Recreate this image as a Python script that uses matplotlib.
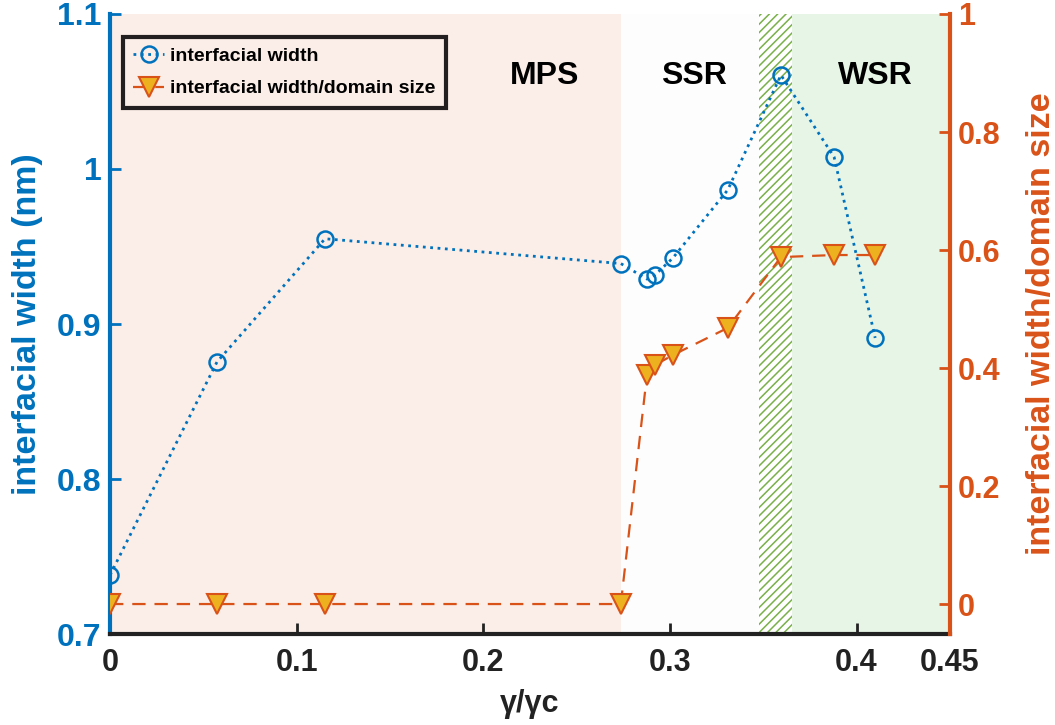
import numpy as np
import matplotlib
matplotlib.use("Agg")
import matplotlib.pyplot as plt

plt.rcParams['font.family'] = ['Liberation Sans', 'DejaVu Sans']
plt.rcParams['font.weight'] = 'bold'
plt.rcParams['hatch.linewidth'] = 1.1

# data
ratio = [0, 0.0573, 0.1152, 0.2737, 0.2877, 0.292, 0.3016, 0.331, 0.3595, 0.388, 0.41]
width = [0.738, 0.8755, 0.955, 0.939, 0.929, 0.9316, 0.9426, 0.9865, 1.0606, 1.0077, 0.891]
width_ratio = [0, 0, 0, 0, 0.388, 0.405, 0.422, 0.468, 0.588, 0.5915, 0.5915]

regions = ['MPS', 'SSR', 'WSR']
region_x = [0.233, 0.313, 0.41]

blue = '#0072BD'
orange = '#D95319'
gold = '#EDB120'

fig = plt.figure(figsize=(10.55, 7.25), dpi=100)
ax = fig.add_axes([0.1043, 0.1255, 0.796, 0.8552])

# background regions
ax.axvspan(0, 0.2737, color='#FBEEE8', lw=0, zorder=0)
ax.axvspan(0.2737, 0.348, color='#FDFDFD', lw=0, zorder=0)
ax.axvspan(0.348, 0.3655, facecolor='white', edgecolor='#7AB04A', hatch='////', lw=0, zorder=0)
ax.axvspan(0.3655, 0.45, color='#E6F5E6', lw=0, zorder=0)

l1, = ax.plot(ratio, width, ':', color=blue, lw=2, marker='o', ms=11.5,
              mfc='none', mec=blue, mew=1.8, label='interfacial width', zorder=3)

ax.set_xlim(0, 0.45)
ax.set_ylim(0.7, 1.1)
ax.set_xticks([0, 0.1, 0.2, 0.3, 0.4, 0.45])
ax.set_xticklabels(['0', '0.1', '0.2', '0.3', '0.4', '0.45'])
ax.set_yticks([0.7, 0.8, 0.9, 1.0, 1.1])
ax.set_yticklabels(['0.7', '0.8', '0.9', '1', '1.1'])
ax.tick_params(axis='x', direction='in', length=8, width=2, colors='#222222',
               labelsize=22, pad=10)
ax.tick_params(axis='y', direction='in', length=8, width=2, colors=blue,
               labelsize=23, pad=6)
ax.set_xlabel('γ/γc', fontsize=22, fontweight='bold', color='#222222', labelpad=8)
ax.set_ylabel('interfacial width (nm)', fontsize=24.5, fontweight='bold', color=blue, labelpad=10)
ax.spines['top'].set_visible(False)
ax.spines['left'].set_color(blue)
ax.spines['left'].set_linewidth(3)
ax.spines['bottom'].set_color('#222222')
ax.spines['bottom'].set_linewidth(3)
ax.spines['right'].set_visible(False)

for name, xv in zip(regions, region_x):
    ax.text(xv, 1.06, name, ha='center', va='center', fontsize=23,
            fontweight='bold', color='black', zorder=4)

ax2 = ax.twinx()
l2, = ax2.plot(ratio, width_ratio, '--', color=orange, lw=1.6, dashes=(6, 4),
               marker='v', ms=15, mfc=gold, mec=orange, mew=1.5,
               label='interfacial width/domain size', zorder=3)
ax2.set_ylim(-0.0508, 1.0)
ax2.set_yticks([0, 0.2, 0.4, 0.6, 0.8, 1.0])
ax2.set_yticklabels(['0', '0.2', '0.4', '0.6', '0.8', '1'])
ax2.tick_params(axis='y', direction='in', length=8, width=2, colors=orange,
                labelsize=22, pad=6)
ax2.set_ylabel('interfacial width/domain size', fontsize=24.5, fontweight='bold',
               color=orange, labelpad=18)
ax2.spines['top'].set_visible(False)
ax2.spines['left'].set_visible(False)
ax2.spines['bottom'].set_visible(False)
ax2.spines['right'].set_color(orange)
ax2.spines['right'].set_linewidth(3)

leg = ax2.legend([l1, l2], [l1.get_label(), l2.get_label()], loc='upper left',
                 bbox_to_anchor=(0.015, 0.963), fontsize=14, frameon=True,
                 fancybox=False, edgecolor='#231F20', facecolor='#FBEEE8',
                 framealpha=1, handlelength=1.6, handletextpad=0.3,
                 borderpad=0.55, labelspacing=0.75, borderaxespad=0)
leg.get_frame().set_linewidth(3)
for t in leg.get_texts():
    t.set_fontweight('bold')

fig.savefig('out.png', dpi=100)
